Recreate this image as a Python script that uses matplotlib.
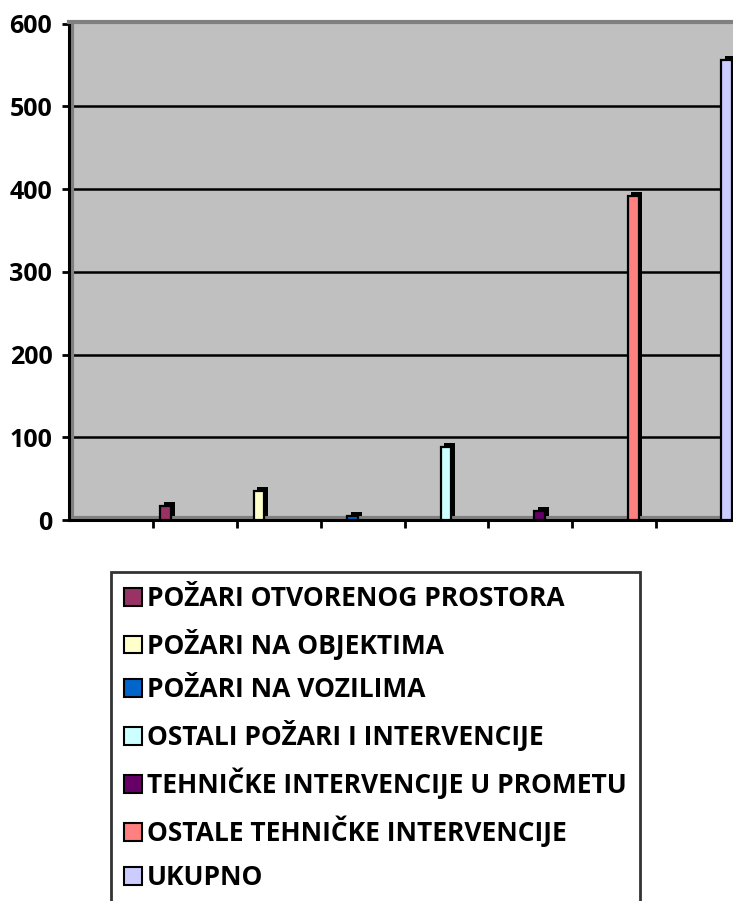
import numpy as np
import matplotlib
matplotlib.use("Agg")
import matplotlib.pyplot as plt

# Data
categories = [
    "POŽARI OTVORENOG PROSTORA",
    "POŽARI NA OBJEKTIMA",
    "POŽARI NA VOZILIMA",
    "OSTALI POŽARI I INTERVENCIJE",
    "TEHNIČKE INTERVENCIJE U PROMETU",
    "OSTALE TEHNIČKE INTERVENCIJE",
    "UKUPNO",
]
values = [17, 35, 5, 88, 11, 392, 556]
colors = ["#993366", "#FFFFCC", "#0066CC", "#CCFFFF", "#660066", "#FF8080", "#CCCCFF"]
y_ticks = [0, 100, 200, 300, 400, 500, 600]

plt.rcParams["font.family"] = ["Open Sans", "DejaVu Sans"]
plt.rcParams["font.weight"] = "bold"

W, H = 733, 901
fig = plt.figure(figsize=(W / 100, H / 100), dpi=100)
# plot area runs past the right edge of the image, like in the reference
ax = fig.add_axes([69 / W, 1 - 520 / H, 671 / W, 498 / H])
ax.set_facecolor("#C0C0C0")

ax.set_xlim(0, 8)
ax.set_ylim(0, 602)

# gridlines on the back wall
for yv in y_ticks[1:-1]:
    ax.axhline(yv, color="black", lw=1.8, zorder=1)

# wall edges (dark gray band inside the axes)
ax.axvline(0.03, color="#808080", lw=3, zorder=1.5)
ax.axhline(2.5, color="#808080", lw=3, zorder=1.5)

# bars with a simple 3D look: dark depth block behind the front face
pos = 1.15 + 1.115 * np.arange(len(values))
width = 0.13
dx, dy = 0.045, 4.5
ax.bar(pos + dx, values, width=width, bottom=dy, color="black", zorder=2)
bars = ax.bar(pos, values, width=width, color=colors, edgecolor="black",
              linewidth=1.6, zorder=3)

# axes styling
ax.spines["right"].set_visible(False)
ax.spines["top"].set_color("#808080")
ax.spines["top"].set_linewidth(3)
ax.spines["left"].set_linewidth(2.2)
ax.spines["bottom"].set_linewidth(2.2)

ax.set_yticks(y_ticks)
ax.set_yticklabels([str(v) for v in y_ticks], fontsize=18, fontweight="bold")
ax.set_xticks(np.arange(1, 8))
ax.set_xticklabels([])
ax.tick_params(axis="y", direction="out", length=5, width=2, pad=7)
ax.tick_params(axis="x", direction="out", length=6, width=2)

leg = fig.legend(bars, categories, loc="upper left",
                 bbox_to_anchor=(111 / W, 1 - 572 / H),
                 prop={"weight": "bold", "size": 19},
                 frameon=True, fancybox=False, shadow=False,
                 handlelength=0.66, handleheight=0.66, handletextpad=0.2,
                 labelspacing=0.63, borderpad=0.5, borderaxespad=0)
leg.get_frame().set_edgecolor("black")
leg.get_frame().set_linewidth(2)
for h in leg.legend_handles:
    h.set_linewidth(1.5)

fig.savefig("out.png", dpi=100)
